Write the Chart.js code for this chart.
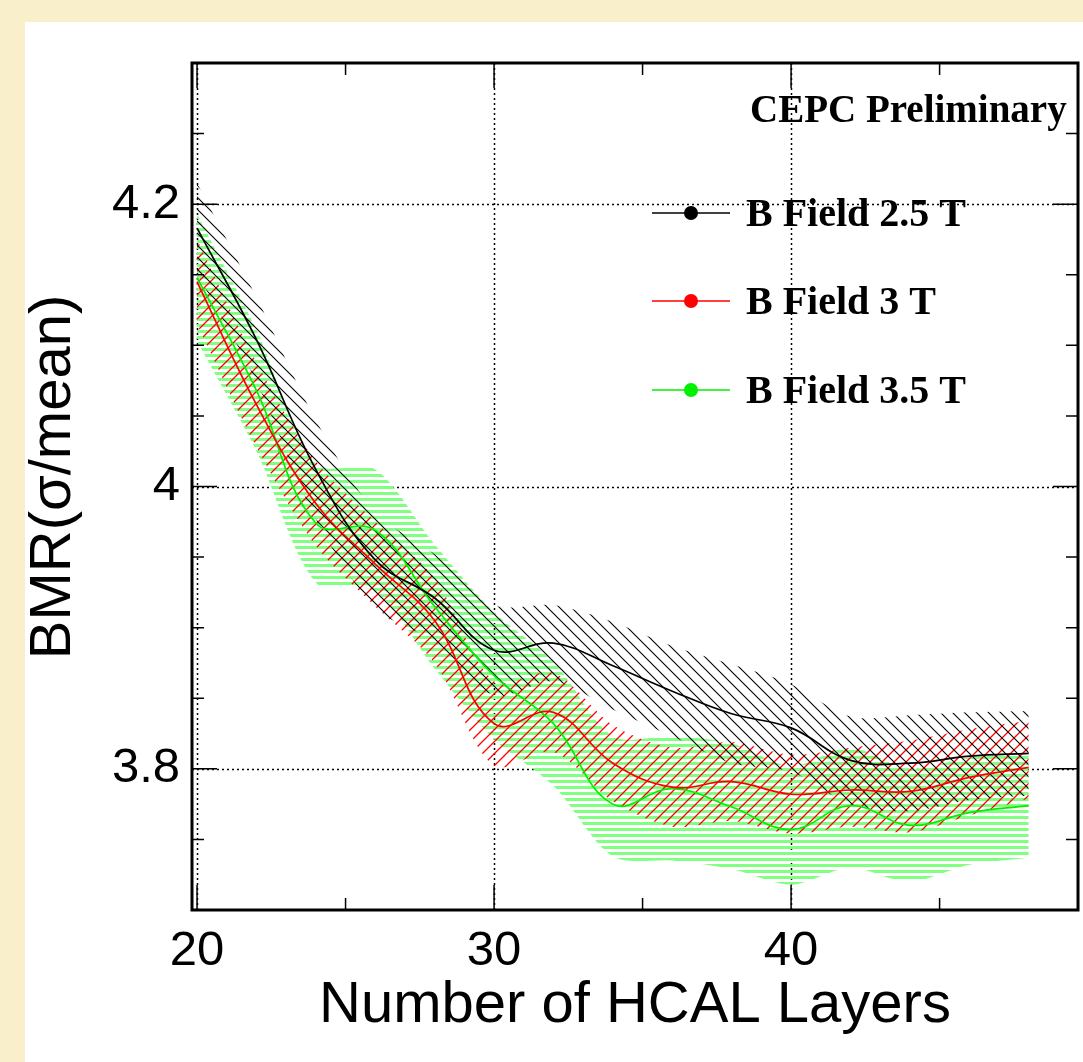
<!DOCTYPE html>
<html><head><meta charset="utf-8">
<script src="https://cdn.jsdelivr.net/npm/chart.js@4/dist/chart.umd.min.js"></script>
<style>
html,body{margin:0;padding:0;background:#f9efcb;overflow:hidden;}
#c{position:absolute;left:0;top:0;}
</style></head><body>
<canvas id="c" width="1083" height="1062"></canvas>
<script>
// ---- data ----
const layers = [20,22,24,26,28,30,32,34,36,38,40,42,44,46,48];
const bmr25 = [4.183,4.104,4.012,3.948,3.921,3.884,3.889,3.873,3.855,3.839,3.829,3.806,3.804,3.809,3.811];
const errUp25 = [0.032,0.030,0.035,0.034,0.031,0.032,0.027,0.031,0.032,0.035,0.031,0.031,0.034,0.031,0.030];
const errDn25 = [0.032,0.030,0.035,0.034,0.031,0.032,0.027,0.031,0.032,0.035,0.031,0.031,0.034,0.031,0.030];
const bmr30 = [4.145,4.058,3.988,3.945,3.905,3.832,3.840,3.804,3.787,3.791,3.782,3.785,3.784,3.794,3.801];
const errUp30 = [0.030,0.030,0.030,0.030,0.030,0.030,0.028,0.027,0.028,0.028,0.028,0.030,0.036,0.034,0.033];
const errDn30 = [0.030,0.030,0.030,0.030,0.030,0.030,0.028,0.027,0.028,0.028,0.028,0.026,0.029,0.027,0.022];
const bmr35 = [4.148,4.068,3.974,3.969,3.915,3.866,3.832,3.775,3.786,3.773,3.757,3.774,3.760,3.769,3.774];
const errUp35 = [0.045,0.043,0.042,0.043,0.044,0.045,0.044,0.048,0.037,0.045,0.045,0.041,0.040,0.039,0.036];
const errDn35 = [0.045,0.043,0.042,0.043,0.044,0.045,0.044,0.037,0.051,0.044,0.039,0.044,0.040,0.037,0.037];
const seriesNames = ['B Field 2.5 T','B Field 3 T','B Field 3.5 T'];
const xTickLabels = [20,30,40];
const yTickLabels = [3.8,4.0,4.2];
const xTitle = 'Number of HCAL Layers';
const yTitle = 'BMR(\u03c3/mean)';
const stamp = 'CEPC Preliminary';

// ---- hatch patterns ----
function hatch(kind, color, lw, s){
  const c = document.createElement('canvas');
  const g = c.getContext('2d');
  if(kind==='h'){
    c.width = 8; c.height = s;
    g.fillStyle = color; g.fillRect(0,0,8,Math.round(s/2));
  } else {
    c.width = s; c.height = s;
    g.strokeStyle = color; g.lineWidth = lw; g.beginPath();
    if(kind==='back'){
      g.moveTo(-2,-2); g.lineTo(s+2,s+2);
      g.moveTo(-2,s-2); g.lineTo(2,s+2);
      g.moveTo(s-2,-2); g.lineTo(s+2,2);
    } else {
      g.moveTo(-2,s+2); g.lineTo(s+2,-2);
      g.moveTo(-2,2); g.lineTo(2,-2);
      g.moveTo(s-2,s+2); g.lineTo(s+2,s-2);
    }
    g.stroke();
  }
  return g.createPattern(c,'repeat');
}
const ctx = document.getElementById('c').getContext('2d');
const patBlack = hatch('back','#000000',1.1,12);
const patRed = hatch('fwd','#ff0000',1.3,12);
const patGreen = hatch('h','#80ff80',1,6);

const edge = (vals, errs, sign) => layers.map((x,i)=>({x, y: vals[i] + sign*errs[i]}));
const pts = (vals) => layers.map((x,i)=>({x, y: vals[i]}));

function band(vals, up, dn, pat, order){
  return [
    {data: edge(vals,up,1), fill:'+1', backgroundColor: pat, borderWidth:0, borderColor:'rgba(0,0,0,0)', pointRadius:0, tension:0.3, order},
    {data: edge(vals,dn,-1), fill:false, borderWidth:0, borderColor:'rgba(0,0,0,0)', pointRadius:0, tension:0.3, order}
  ];
}
function line(vals, color, order, label){
  return {label, data: pts(vals), fill:false, borderColor: color, borderWidth:1.7, pointRadius:0, tension:0.4, order};
}

const lineColors = ['#000000','#ff0000','#00f000'];
const datasets = [
  line(bmr25,lineColors[0],0,seriesNames[0]),
  line(bmr30,lineColors[1],1,seriesNames[1]),
  line(bmr35,lineColors[2],2,seriesNames[2]),
  ...band(bmr25,errUp25,errDn25,patBlack,3),
  ...band(bmr30,errUp30,errDn30,patRed,4),
  ...band(bmr35,errUp35,errDn35,patGreen,5)
];

const decor = {
  id:'decor',
  beforeDraw(chart){
    const c = chart.ctx;
    c.save();
    c.fillStyle = '#f9efcb'; c.fillRect(0,0,chart.width,chart.height);
    c.fillStyle = '#ffffff'; c.fillRect(25,22,chart.width-25,chart.height-22);
    c.restore();
  },
  beforeDatasetsDraw(chart){
    const {ctx:c, chartArea:a, scales:{x,y}} = chart;
    c.save();
    c.strokeStyle = '#000'; c.lineWidth = 1.5; c.setLineDash([2,3]);
    xTickLabels.forEach(v=>{ const px = Math.round(x.getPixelForValue(v))+0.5; c.beginPath(); c.moveTo(px,a.top); c.lineTo(px,a.bottom); c.stroke(); });
    yTickLabels.forEach(v=>{ const py = Math.round(y.getPixelForValue(v))+0.5; c.beginPath(); c.moveTo(a.left,py); c.lineTo(a.right,py); c.stroke(); });
    c.restore();
  },
  afterDraw(chart){
    const {ctx:c, chartArea:a, scales:{x,y}} = chart;
    c.save();
    // inner ticks
    c.strokeStyle = '#000'; c.lineWidth = 1.5;
    for(let v=20; v<=45.001; v+=5){
      const px = x.getPixelForValue(v), L = (Math.abs(v%10)<1e-6)?25:12;
      c.beginPath(); c.moveTo(px,a.bottom); c.lineTo(px,a.bottom-L); c.moveTo(px,a.top); c.lineTo(px,a.top+L); c.stroke();
    }
    for(let v=3.75; v<=4.2501; v+=0.05){
      const py = y.getPixelForValue(v);
      const major = Math.abs(Math.round(v*10)-v*10)<1e-6 && Math.round(v*10)%2===0;
      const L = major?25:12;
      c.beginPath(); c.moveTo(a.left,py); c.lineTo(a.left+L,py); c.moveTo(a.right,py); c.lineTo(a.right-L,py); c.stroke();
    }
    // frame
    c.lineWidth = 3; c.strokeRect(a.left, a.top, a.right-a.left, a.bottom-a.top);
    // titles
    c.fillStyle = '#000';
    c.font = '58px "Liberation Sans", Arial, sans-serif';
    c.textAlign = 'center'; c.textBaseline = 'alphabetic';
    c.fillText(xTitle, (a.left+a.right)/2, 1022);
    c.save(); c.translate(70, 477); c.rotate(-Math.PI/2);
    c.fillText(yTitle, 0, 0); c.restore();
    // stamp
    c.font = 'bold 39px "Liberation Serif", "Times New Roman", serif';
    c.textAlign = 'left';
    c.fillText(stamp, 750, 122);
    // legend
    c.font = 'bold 40px "Liberation Serif", "Times New Roman", serif';
    const ys = [213,301,390];
    seriesNames.forEach((n,i)=>{
      c.strokeStyle = lineColors[i]; c.lineWidth = 1.5;
      c.beginPath(); c.moveTo(652,ys[i]); c.lineTo(730,ys[i]); c.stroke();
      c.fillStyle = lineColors[i]; c.beginPath(); c.arc(691,ys[i],7,0,Math.PI*2); c.fill();
      c.fillStyle = '#000'; c.fillText(n, 746, ys[i]+13);
    });
    c.restore();
  }
};

new Chart(ctx, {
  type:'line',
  data:{datasets},
  options:{
    responsive:false, animation:false, events:[],
    layout:{padding:{left:0,right:5,top:63,bottom:0}},
    plugins:{legend:{display:false}, tooltip:{enabled:false}},
    scales:{
      x:{type:'linear', min:19.83, max:49.66,
         grid:{display:false, drawTicks:false}, border:{display:false},
         ticks:{color:'#000', font:{family:'"Liberation Sans", Arial, sans-serif', size:49}, padding:12, maxRotation:0, autoSkip:false},
         afterBuildTicks:s=>{ s.ticks = xTickLabels.map(v=>({value:v})); },
         afterFit:s=>{ s.height = 152; }},
      y:{type:'linear', min:3.70, max:4.30,
         grid:{display:false, drawTicks:false}, border:{display:false},
         ticks:{color:'#000', font:{family:'"Liberation Sans", Arial, sans-serif', size:49}, padding:12,
                callback:v=> (Math.abs(v-4)<1e-9 ? '4' : v.toFixed(1))},
         afterBuildTicks:s=>{ s.ticks = yTickLabels.map(v=>({value:v})); },
         afterFit:s=>{ s.width = 192; }}
    }
  },
  plugins:[decor]
});
</script>
</body></html>
